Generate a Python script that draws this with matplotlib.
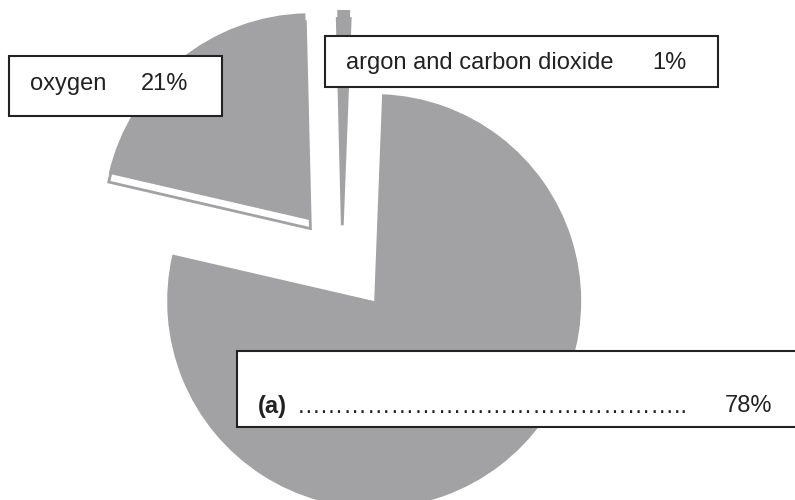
import matplotlib.pyplot as plt
import matplotlib.patheffects as pe
from matplotlib.patches import Rectangle

# air composition, percent
gases = ['(a)', 'argon and carbon dioxide', 'oxygen']
percent = [78, 1, 21]
# pie explode is in data units here (axes are in pixels)
explode = [53, 42, 50]

W, H = 795, 500
grey = '#a2a1a3'
plt.rcParams['font.family'] = ['Liberation Sans', 'DejaVu Sans']

fig = plt.figure(figsize=(W / 100, H / 100), dpi=100)
ax = fig.add_axes([0, 0, 1, 1])

wedges, _ = ax.pie(percent, explode=explode, startangle=167, radius=207,
                   center=(342, 241), colors=[grey] * 3,
                   wedgeprops=dict(linewidth=0))
# white side of the lifted slices (3d look)
side = [pe.PathPatchEffect(offset=(0, -6), facecolor='white',
                           edgecolor=grey, linewidth=2), pe.Normal()]
for w in wedges[1:]:
    w.set_path_effects(side)

ax.set_xlim(0, W)
ax.set_ylim(0, H)
ax.set_aspect('equal')
ax.axis('off')


def box(x0, y0, x1, y1):
    # pixel coords, y measured from the top
    ax.add_patch(Rectangle((x0, H - y1), x1 - x0, y1 - y0, facecolor='white',
                           edgecolor='#222222', linewidth=1.5, zorder=5,
                           clip_on=False))


def txt(x, y, s, **kw):
    ax.text(x, H - y, s, fontsize=17, color='#222222', ha='left',
            va='baseline', zorder=6, **kw)


box(9, 56, 222, 116)
txt(30, 90, gases[2])
txt(141, 90, f'{percent[2]}%')

box(325, 36, 718, 87)
txt(346, 69, gases[1])
txt(652, 69, f'{percent[1]}%')

box(237, 351, 810, 427)
txt(258, 413, gases[0], fontweight='bold')
txt(297, 413, '\u2026' * 16 + '..')
txt(725, 412, f'{percent[0]}%')

fig.savefig('out.png', dpi=100)
